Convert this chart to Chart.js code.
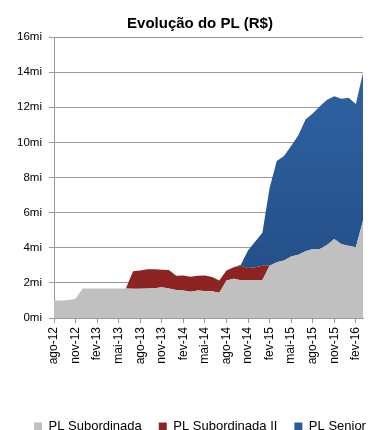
<!DOCTYPE html>
<html>
<head>
<meta charset="utf-8">
<script src="https://cdn.jsdelivr.net/npm/chart.js@4/dist/chart.umd.min.js"></script>
<style>
  html, body { margin: 0; padding: 0; background: #fff; }
  #wrap { width: 373px; height: 430px; position: relative; }
</style>
</head>
<body>
<div id="wrap"><canvas id="c" width="373" height="430"></canvas></div>
<script>
// Monthly categories, ago-12 .. mar-16
const months = [
  'ago-12','set-12','out-12','nov-12','dez-12','jan-13','fev-13','mar-13','abr-13','mai-13','jun-13','jul-13',
  'ago-13','set-13','out-13','nov-13','dez-13','jan-14','fev-14','mar-14','abr-14','mai-14','jun-14','jul-14',
  'ago-14','set-14','out-14','nov-14','dez-14','jan-15','fev-15','mar-15','abr-15','mai-15','jun-15','jul-15',
  'ago-15','set-15','out-15','nov-15','dez-15','jan-16','fev-16','mar-16'
];
// Values in R$ millions
const plSubordinada = [
  1.0, 1.0, 1.02, 1.1, 1.68, 1.68, 1.68, 1.68, 1.68, 1.68, 1.68, 1.66,
  1.66, 1.68, 1.7, 1.75, 1.68, 1.6, 1.57, 1.5, 1.57, 1.54, 1.53, 1.44,
  2.13, 2.23, 2.15, 2.17, 2.17, 2.17, 2.98, 3.18, 3.27, 3.5, 3.6, 3.8,
  3.93, 3.93, 4.15, 4.5, 4.2, 4.12, 4.03, 5.54
];
const plSubordinadaII = [
  0, 0, 0, 0, 0, 0, 0, 0, 0, 0, 0, 1.0,
  1.05, 1.1, 1.08, 1.0, 1.06, 0.8, 0.85, 0.85, 0.83, 0.88, 0.8, 0.69,
  0.57, 0.66, 0.83, 0.67, 0.72, 0.81, 0, 0, 0, 0, 0, 0,
  0, 0, 0, 0, 0, 0, 0, 0
];
const plSenior = [
  0, 0, 0, 0, 0, 0, 0, 0, 0, 0, 0, 0,
  0, 0, 0, 0, 0, 0, 0, 0, 0, 0, 0, 0,
  0, 0, 0.05, 1.0, 1.46, 1.87, 4.42, 5.76, 5.96, 6.3, 6.8, 7.5,
  7.72, 8.12, 8.27, 8.13, 8.28, 8.42, 8.15, 8.42
];
const yTicks = [0, 2, 4, 6, 8, 10, 12, 14, 16];
const tickEvery = 3;

const FONT = "'Liberation Sans', Arial, sans-serif";
const gridGray = '#9a9a9a';
const colors = ['#c0c0c0', '#8c2424', '#2b5a98'];

function blueFill(ctx) {
  const chart = ctx.chart;
  const a = chart.chartArea;
  if (!a) return colors[2];
  const g = chart.ctx.createLinearGradient(0, a.top, 0, a.bottom);
  g.addColorStop(0, '#3166a8');
  g.addColorStop(1, '#224b83');
  return g;
}

new Chart(document.getElementById('c'), {
  type: 'line',
  data: {
    labels: months,
    datasets: [
      { label: 'PL Subordinada', data: plSubordinada, backgroundColor: colors[0], borderColor: colors[0], fill: 'origin' },
      { label: 'PL Subordinada II', data: plSubordinadaII, backgroundColor: colors[1], borderColor: colors[1], fill: '-1' },
      { label: 'PL Senior', data: plSenior, backgroundColor: blueFill, borderColor: colors[2], fill: '-1' }
    ]
  },
  options: {
    responsive: false,
    animation: false,
    events: [],
    elements: { point: { radius: 0 }, line: { borderWidth: 0, tension: 0 } },
    layout: { padding: { left: 15, right: -12, top: 0, bottom: -13 } },
    plugins: {
      title: {
        display: true,
        text: 'Evolução do PL (R$)',
        color: '#000',
        font: { family: FONT, size: 15, weight: 'bold' },
        padding: { top: 15, bottom: 4 }
      },
      legend: {
        display: true,
        position: 'bottom',
        labels: {
          color: '#000',
          font: { family: FONT, size: 13 },
          boxWidth: 8,
          boxHeight: 8,
          padding: 17,
          generateLabels: (chart) => chart.data.datasets.map((d, i) => ({
            text: d.label,
            fillStyle: colors[i],
            strokeStyle: colors[i],
            lineWidth: 0,
            datasetIndex: i
          }))
        }
      },
      tooltip: { enabled: false },
      filler: { propagate: false }
    },
    scales: {
      x: {
        type: 'category',
        offset: false,
        grid: {
          display: true,
          drawOnChartArea: false,
          drawTicks: true,
          tickLength: 5,
          color: (c) => (c.index % tickEvery === 0 ? gridGray : 'rgba(0,0,0,0)')
        },
        border: { display: true, color: gridGray },
        ticks: {
          autoSkip: false,
          maxRotation: 90,
          minRotation: 90,
          padding: 4,
          color: '#000',
          font: { family: FONT, size: 12 },
          callback: (v, i) => (i % tickEvery === 0 ? months[i] : '')
        },
        afterFit: (s) => { s.paddingRight = 10; s.height = 85; }
      },
      y: {
        stacked: true,
        min: 0,
        max: 16,
        afterBuildTicks: (s) => { s.ticks = yTicks.map(v => ({ value: v })); },
        grid: { color: gridGray, lineWidth: 1, drawTicks: true, tickLength: 5 },
        border: { display: true, color: gridGray },
        ticks: {
          padding: 7,
          color: '#000',
          font: { family: FONT, size: 11.5 },
          callback: (v) => v + 'mi'
        },
        afterFit: (s) => { s.width = 39; }
      }
    }
  }
});
</script>
</body>
</html>
